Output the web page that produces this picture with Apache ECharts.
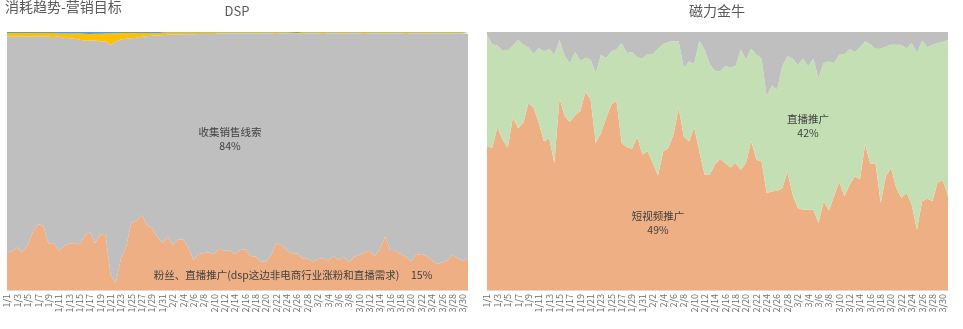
<!DOCTYPE html>
<html>
<head>
<meta charset="utf-8">
<script src="https://cdn.jsdelivr.net/npm/echarts@6/dist/echarts.min.js"></script>
<style>
html,body{margin:0;padding:0;background:#fff;}
#c{width:963px;height:329px;}
</style>
</head>
<body>
<div id="c"></div>
<script>
// Categories: 1/1 .. 3/31
const monthDays = [31, 28, 31];
const dates = [];
monthDays.forEach((n, m) => { for (let d = 1; d <= n; d++) dates.push((m + 1) + '/' + d); });

// DSP (percent)
const dspFans = [14.5,15.1,16.5,14.6,17.4,22.6,25.6,24.8,18.1,18.1,15.2,17.1,18.1,18.1,17.7,20.9,22.6,18.1,21.6,21.7,5.8,2.8,12.3,16.8,26.1,26.9,29.1,25.2,23.9,20.7,18.1,20.7,17.4,19.6,19.7,16.5,11.6,14.0,14.2,14.6,14.0,16.0,15.2,15.3,14.0,15.5,15.8,13.2,12.9,11.0,11.0,13.6,18.1,17.4,15.5,14.0,14.2,12.3,12.3,11.0,11.9,12.3,11.4,13.3,11.6,12.9,10.7,12.9,13.6,14.6,15.2,13.2,15.8,20.7,15.1,15.1,14.0,12.9,11.2,13.6,14.0,13.2,11.6,10.1,10.7,11.4,13.6,12.3,11.2,12.3];
const dspLeads = [83.9,83.2,81.7,83.8,80.9,75.6,72.7,73.6,80.1,80.0,83.1,80.7,79.5,79.4,79.3,75.8,74.0,78.7,74.6,74.7,89.2,93.5,84.8,80.6,71.5,70.9,69.1,73.2,74.6,77.9,80.6,78.2,81.6,79.4,79.4,82.6,87.5,85.2,85.0,84.6,85.2,83.4,84.1,84.1,85.5,83.8,83.6,86.3,86.4,88.4,88.5,85.8,81.1,82.0,84.0,85.3,85.1,87.0,87.1,88.5,87.5,86.9,88.0,86.2,87.8,86.4,88.7,86.6,85.8,84.6,84.2,86.3,83.6,78.6,84.3,84.4,85.4,86.3,88.2,85.9,85.4,86.1,87.8,89.4,88.7,87.9,85.8,87.2,88.2,87.0];
const dspApp = [1.2,1.3,1.4,1.2,1.3,1.4,1.3,1.2,1.4,1.5,1.1,1.6,1.8,1.9,2.4,2.6,2.6,2.5,3.1,3.0,4.4,3.2,2.5,2.2,2.0,1.8,1.4,1.2,1.0,0.9,1.0,0.9,0.8,0.8,0.7,0.7,0.7,0.6,0.6,0.6,0.6,0.4,0.5,0.4,0.3,0.5,0.4,0.3,0.5,0.4,0.3,0.4,0.6,0.4,0.3,0.4,0.3,0.5,0.4,0.3,0.4,0.6,0.4,0.3,0.4,0.5,0.4,0.3,0.4,0.6,0.4,0.3,0.4,0.5,0.4,0.3,0.4,0.6,0.4,0.3,0.4,0.5,0.4,0.3,0.4,0.5,0.4,0.3,0.4,0.5];
const dspOther = [0.4,0.4,0.4,0.4,0.4,0.4,0.4,0.4,0.4,0.4,0.6,0.6,0.6,0.6,0.6,0.7,0.8,0.7,0.7,0.6,0.6,0.5,0.4,0.4,0.4,0.4,0.4,0.4,0.5,0.5,0.3,0.2,0.2,0.2,0.2,0.2,0.2,0.2,0.2,0.2,0.2,0.2,0.2,0.2,0.2,0.2,0.2,0.2,0.2,0.2,0.2,0.2,0.2,0.2,0.2,0.3,0.4,0.2,0.2,0.2,0.2,0.2,0.2,0.2,0.2,0.2,0.2,0.2,0.2,0.2,0.2,0.2,0.2,0.2,0.2,0.2,0.2,0.2,0.2,0.2,0.2,0.2,0.2,0.2,0.2,0.2,0.2,0.2,0.2,0.2];

// 磁力金牛 (percent)
const jnShort = [55.7,55.0,63.0,58.3,55.0,66.9,62.8,64.7,72.5,70.5,64.7,57.6,58.9,49.2,74.4,67.3,65.1,67.7,69.3,76.7,73.8,57.0,60.9,66.7,71.8,73.4,57.0,55.3,54.8,59.2,52.5,53.7,49.2,44.4,53.5,55.0,60.2,70.5,59.6,57.6,63.0,53.7,44.7,44.7,48.6,50.9,49.2,47.5,49.2,46.6,49.2,57.9,50.5,49.9,37.6,38.2,38.5,39.3,45.7,37.0,31.8,31.1,31.1,31.1,26.0,34.4,30.7,36.3,41.9,36.3,40.8,44.1,42.8,56.6,48.8,49.2,33.7,44.1,47.3,39.5,35.7,37.6,33.1,23.4,34.4,35.4,34.4,41.9,42.4,36.3];
const jnLive = [43.3,40.3,31.8,34.5,37.7,27.9,34.2,30.4,21.6,20.9,29.1,34.9,34.6,42.0,22.6,23.3,22.9,24.5,19.6,13.2,15.5,27.1,30.4,23.3,20.7,19.8,38.8,36.6,37.5,31.0,37.2,37.7,42.2,49.1,41.9,41.1,36.2,25.8,26.5,31.0,24.5,42.9,48.4,42.9,36.4,34.1,37.5,38.8,37.5,46.5,40.1,35.7,40.7,39.8,37.5,41.1,39.1,47.4,44.8,52.7,55.3,58.5,55.6,58.5,56.2,53.6,57.9,51.7,49.4,55.2,52.7,48.2,51.3,39.8,46.5,44.3,59.8,50.4,47.8,55.6,59.4,55.9,62.7,68.5,62.3,58.7,60.7,53.9,53.7,60.7];
const jnOther = [1.0,4.7,5.2,7.2,7.2,5.2,3.0,4.9,5.9,8.5,6.2,7.5,6.5,8.8,3.0,9.4,12.0,7.8,11.1,10.1,10.7,15.9,8.8,10.1,7.5,6.8,4.3,8.1,7.8,9.8,10.3,8.5,8.5,6.5,4.7,3.9,3.6,3.6,14.0,11.4,12.4,3.4,6.8,12.4,15.0,15.2,13.3,13.7,13.3,6.8,10.7,6.5,8.8,10.3,24.9,20.7,22.4,13.3,9.4,10.3,12.9,10.3,13.3,10.3,17.8,12.0,11.4,12.0,8.8,8.5,6.5,7.8,5.9,3.6,4.7,6.5,6.5,5.6,4.9,4.9,4.9,6.5,4.3,8.1,3.4,5.9,4.9,4.3,3.9,3.0];

// normalise each day to 100%
function pct(arrs) {
  return arrs.map(a => a.map((v, i) => {
    const t = arrs.reduce((s, b) => s + b[i], 0);
    return +(v / t * 100).toFixed(3);
  }));
}
const [dFans, dLeads, dApp, dOther] = pct([dspFans, dspLeads, dspApp, dspOther]);
const [jShort, jLive, jOther] = pct([jnShort, jnLive, jnOther]);

const C_ORANGE = '#EEAF84', C_GRAY = '#BFBFBF', C_YELLOW = '#FFC000', C_BLUE = '#5B9BD5', C_GREEN = '#C5DFB4';
const FONT = '"Noto Sans CJK SC", "Noto Sans", sans-serif';

function area(name, data, color, axisIdx, stack) {
  return {
    name, type: 'line', data, stack, xAxisIndex: axisIdx, yAxisIndex: axisIdx,
    symbol: 'none', smooth: false, lineStyle: { width: 0 },
    areaStyle: { color, opacity: 1 }, itemStyle: { color }, emphasis: { disabled: true },
    z: 2
  };
}
function xAx(gi) {
  return {
    type: 'category', gridIndex: gi, data: dates, boundaryGap: false,
    axisLine: { show: true, lineStyle: { color: '#D9D9D9' } },
    axisTick: { show: false },
    axisLabel: { interval: 1, rotate: 90, fontSize: 9, color: '#6E6E6E', fontFamily: FONT, margin: 4 }
  };
}
function yAx(gi) {
  return { type: 'value', gridIndex: gi, min: 0, max: 100, show: false, splitLine: { show: false } };
}
function label(x, y, text) {
  return { type: 'text', x, y, z: 10, silent: true,
    style: { text, font: '10.5px ' + FONT, fill: '#404040', align: 'center', textAlign: 'center', verticalAlign: 'top', lineHeight: 14 } };
}

const chart = echarts.init(document.getElementById('c'), null, { renderer: 'canvas' });
chart.setOption({
  animation: false,
  backgroundColor: '#FFFFFF',
  textStyle: { fontFamily: FONT },
  title: [
    { text: '消耗趋势-营销目标', left: 5, top: 0, padding: 0, textStyle: { fontSize: 14, fontWeight: 'normal', color: '#595959', fontFamily: FONT } },
    { text: 'DSP', left: 237, top: 5, padding: 0, textAlign: 'center', textStyle: { fontSize: 13, fontWeight: 'normal', color: '#595959', fontFamily: FONT } },
    { text: '磁力金牛', left: 717, top: 4, padding: 0, textAlign: 'center', textStyle: { fontSize: 14, fontWeight: 'normal', color: '#595959', fontFamily: FONT } }
  ],
  grid: [
    { left: 7, right: 495, top: 32, bottom: 39 },
    { left: 487, right: 15, top: 32, bottom: 39 }
  ],
  xAxis: [xAx(0), xAx(1)],
  yAxis: [yAx(0), yAx(1)],
  series: [
    area('粉丝、直播推广', dFans, C_ORANGE, 0, 'dsp'),
    area('收集销售线索', dLeads, C_GRAY, 0, 'dsp'),
    area('应用推广', dApp, C_YELLOW, 0, 'dsp'),
    area('其他', dOther, C_BLUE, 0, 'dsp'),
    area('短视频推广', jShort, C_ORANGE, 1, 'jn'),
    area('直播推广', jLive, C_GREEN, 1, 'jn'),
    area('其他', jOther, C_GRAY, 1, 'jn')
  ],
  graphic: [
    label(230, 125, '收集销售线索\n84%'),
    label(293, 268, '粉丝、直播推广(dsp这边非电商行业涨粉和直播需求)     15%'),
    label(808, 112, '直播推广\n42%'),
    label(658, 209, '短视频推广\n49%')
  ]
});
</script>
</body>
</html>
